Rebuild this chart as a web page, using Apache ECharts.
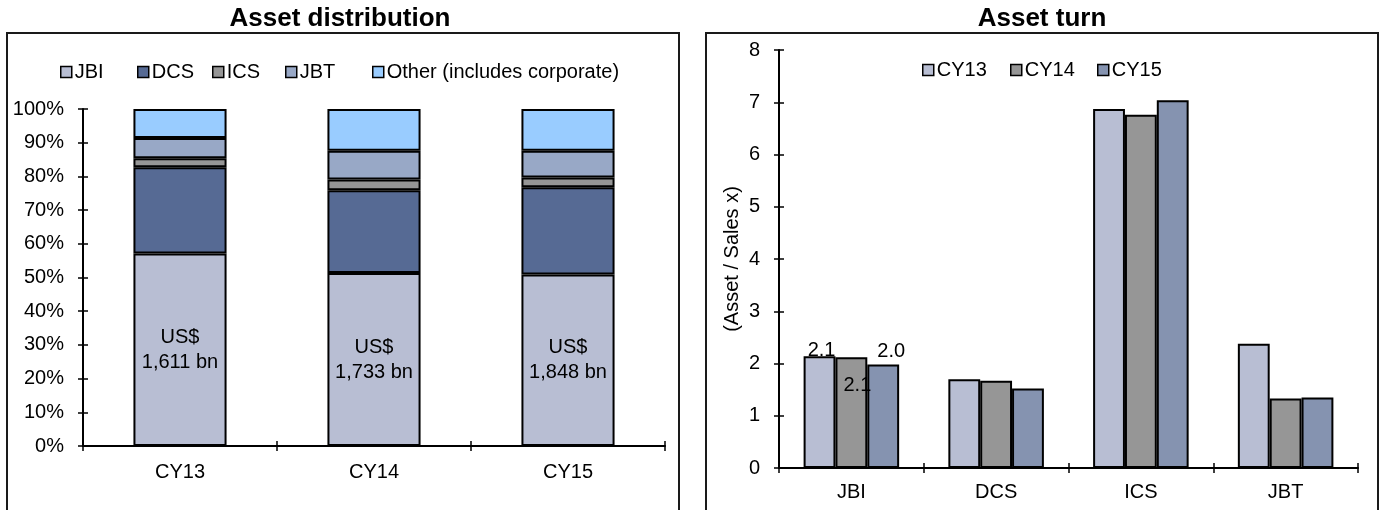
<!DOCTYPE html>
<html>
<head>
<meta charset="utf-8">
<script src="https://cdn.jsdelivr.net/npm/echarts@6/dist/echarts.min.js"></script>
<style>
  html, body { margin: 0; padding: 0; background: #fff; }
  #chart { width: 1383px; height: 510px; }
</style>
</head>
<body>
<div id="chart"></div>
<script>
// ---- Asset distribution (share of total assets, %) ----
const years = ['CY13', 'CY14', 'CY15'];
const shareJBI = [57.1, 51.3, 50.9];
const shareDCS = [25.6, 24.6, 25.9];
const shareICS = [2.7, 3.2, 2.9];
const shareJBT = [6.0, 8.5, 7.9];
const shareOther = [8.6, 12.4, 12.4];
const totalAssetsBn = [1611, 1733, 1848];

// ---- Asset turn (Asset / Sales x) ----
const units = ['JBI', 'DCS', 'ICS', 'JBT'];
const turnCY13 = [2.14, 1.70, 6.87, 2.38];
const turnCY14 = [2.12, 1.67, 6.76, 1.33];
const turnCY15 = [1.98, 1.52, 7.04, 1.35];

const FONT = 'Liberation Sans, Arial, Helvetica, sans-serif';
const INK = '#000';

const segColors = {
  'JBI': '#B8BED3',
  'DCS': '#566A94',
  'ICS': '#969696',
  'JBT': '#98A8C6',
  'Other (includes corporate)': '#99CCFF'
};
const yearColors = { 'CY13': '#B8BED3', 'CY14': '#969696', 'CY15': '#8593B0' };

const chart = echarts.init(document.getElementById('chart'), null, { renderer: 'canvas' });

const axisLine = { show: true, lineStyle: { color: INK, width: 2 } };
const tickOut = { show: true, length: 5, lineStyle: { color: INK, width: 1.5 } };
const tickIn = { show: true, inside: true, length: 5, lineStyle: { color: INK, width: 1.5 } };
const labelText = { fontFamily: FONT, fontSize: 20, color: INK };

function legendItem(name, left, top) {
  return {
    data: [name], left: left, top: top, orient: 'horizontal',
    icon: 'rect', itemWidth: 11, itemHeight: 11, padding: 0,
    itemStyle: { borderColor: INK, borderWidth: 1.5 },
    textStyle: { fontFamily: FONT, fontSize: 20, color: INK, padding: [0, 0, 0, -2] },
    selectedMode: false
  };
}

const barBorder = { borderColor: INK, borderWidth: 2 };

// stacked share series
const stackSeries = [
  ['JBI', shareJBI], ['DCS', shareDCS], ['ICS', shareICS], ['JBT', shareJBT],
  ['Other (includes corporate)', shareOther]
].map(([name, vals]) => {
  const s = {
    name: name, type: 'bar', stack: 'share', xAxisIndex: 0, yAxisIndex: 0,
    barWidth: '48%', data: vals,
    itemStyle: Object.assign({ color: segColors[name] }, barBorder),
    emphasis: { disabled: true }
  };
  if (name === 'JBI') {
    s.label = Object.assign({
      show: true, position: 'inside', lineHeight: 25,
      formatter: p => 'US$\n' + totalAssetsBn[p.dataIndex].toLocaleString('en-US') + ' bn'
    }, labelText);
  }
  return s;
});

// value-label placement for the JBI group only
const jbiLabelPos = {
  'CY13': { position: 'top', distance: -4, offset: [2, 0] },
  'CY14': { position: 'insideTop', distance: 18, offset: [6, 0] },
  'CY15': { position: 'top', distance: 3, offset: [8, 0] }
};

const turnSeries = [['CY13', turnCY13], ['CY14', turnCY14], ['CY15', turnCY15]].map(([name, vals]) => ({
  name: name, type: 'bar', xAxisIndex: 2, yAxisIndex: 2,
  barGap: '0%', barCategoryGap: '34%',
  itemStyle: Object.assign({ color: yearColors[name] }, barBorder),
  emphasis: { disabled: true },
  data: vals.map((v, i) => i === 0
    ? { value: v, label: Object.assign({ show: true, formatter: p => p.value.toFixed(1) }, labelText, jbiLabelPos[name]) }
    : v)
}));

const option = {
  animation: false,
  backgroundColor: '#fff',
  title: [
    { text: 'Asset distribution', left: 340, top: 6, textAlign: 'center', padding: 0,
      textStyle: { fontFamily: FONT, fontSize: 26, fontWeight: 'bold', color: INK } },
    { text: 'Asset turn', left: 1042, top: 6, textAlign: 'center', padding: 0,
      textStyle: { fontFamily: FONT, fontSize: 26, fontWeight: 'bold', color: INK } }
  ],
  graphic: [
    { type: 'rect', shape: { x: 7, y: 33, width: 672, height: 495 },
      style: { fill: 'none', stroke: '#1a1a1a', lineWidth: 2 }, z: -1 },
    { type: 'rect', shape: { x: 706, y: 33, width: 672, height: 495 },
      style: { fill: 'none', stroke: '#1a1a1a', lineWidth: 2 }, z: -1 }
  ],
  legend: [
    legendItem('JBI', 60, 62),
    legendItem('DCS', 137, 62),
    legendItem('ICS', 212, 62),
    legendItem('JBT', 285, 62),
    legendItem('Other (includes corporate)', 372, 62),
    legendItem('CY13', 922, 60),
    legendItem('CY14', 1010, 60),
    legendItem('CY15', 1097, 60)
  ],
  grid: [
    { left: 83, top: 109, width: 582, height: 337 },
    { left: 779, top: 50, width: 579, height: 418 }
  ],
  xAxis: [
    { type: 'category', gridIndex: 0, data: years, position: 'bottom',
      axisLine: axisLine, axisTick: tickOut,
      axisLabel: Object.assign({ margin: 16 }, labelText) },
    { type: 'category', gridIndex: 0, data: years, position: 'bottom',
      axisLine: { show: false }, axisTick: tickIn, axisLabel: { show: false } },
    { type: 'category', gridIndex: 1, data: units, position: 'bottom',
      axisLine: axisLine, axisTick: tickOut,
      axisLabel: Object.assign({ margin: 14 }, labelText) },
    { type: 'category', gridIndex: 1, data: units, position: 'bottom',
      axisLine: { show: false }, axisTick: tickIn, axisLabel: { show: false } }
  ],
  yAxis: [
    { type: 'value', gridIndex: 0, min: 0, max: 100, interval: 10,
      axisLine: axisLine, axisTick: tickOut, splitLine: { show: false },
      axisLabel: Object.assign({ margin: 19, formatter: '{value}%' }, labelText) },
    { type: 'value', gridIndex: 0, min: 0, max: 100, interval: 10, position: 'left',
      axisLine: { show: false }, axisTick: tickIn, splitLine: { show: false }, axisLabel: { show: false } },
    { type: 'value', gridIndex: 1, min: 0, max: 8, interval: 1,
      name: '(Asset / Sales x)', nameLocation: 'middle', nameGap: 37, nameRotate: 90,
      nameTextStyle: labelText,
      axisLine: axisLine, axisTick: tickOut, splitLine: { show: false },
      axisLabel: Object.assign({ margin: 19 }, labelText) },
    { type: 'value', gridIndex: 1, min: 0, max: 8, interval: 1, position: 'left',
      axisLine: { show: false }, axisTick: tickIn, splitLine: { show: false }, axisLabel: { show: false } }
  ],
  series: stackSeries.concat(turnSeries)
};

chart.setOption(option);
</script>
</body>
</html>
